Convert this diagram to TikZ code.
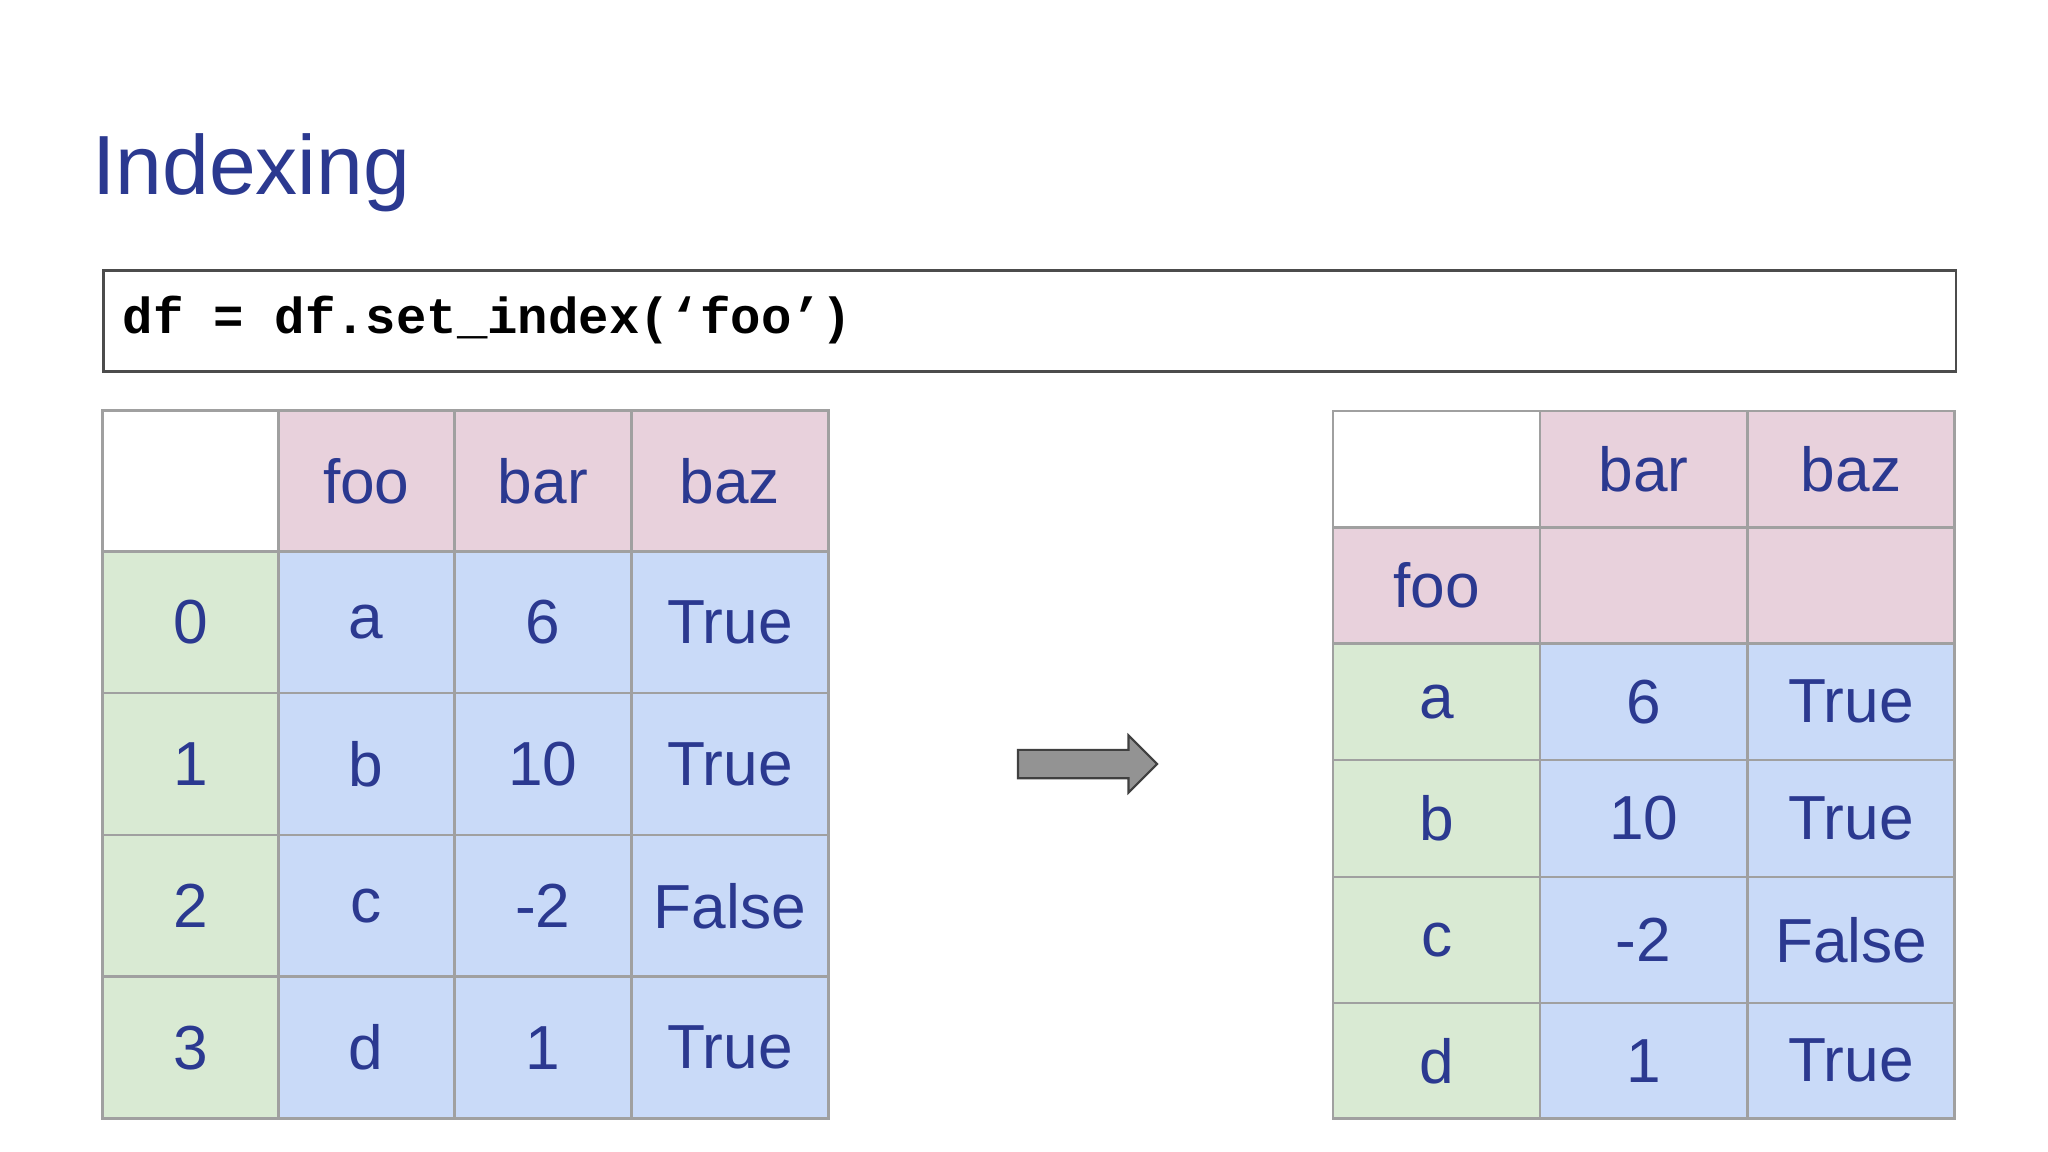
\documentclass[tikz,border=0pt]{standalone}
\usepackage{fontspec}
\setmainfont{Liberation Sans}
\newfontfamily\codefont{Liberation Mono}
\usetikzlibrary{shapes.arrows}
\definecolor{txtblue}{HTML}{2B3990}
\definecolor{hdpink}{HTML}{E8D1DC}
\definecolor{cellblue}{HTML}{C9DAF8}
\definecolor{idxgreen}{HTML}{D9EAD3}
\definecolor{gridgray}{HTML}{A0A0A0}
\tikzset{
  cell/.style={draw=gridgray, line width=1pt, inner sep=0pt, text=txtblue, font=\fontsize{23.7}{24}\selectfont},
  lcell/.style={cell, minimum height=54pt},
  rcell/.style={cell, minimum width=79pt},
}
\begin{document}
\begin{tikzpicture}[x=0.5pt,y=-0.5pt]
\useasboundingbox (0,0) rectangle (1560,877);
\node[anchor=base west, text=txtblue, font=\fontsize{32}{32}\selectfont, inner sep=0pt] (title) at (70,148) {Indexing};
\node[draw=black!70, line width=1pt, minimum width=705.5pt, minimum height=38.5pt, anchor=north west] (code) at (78,205) {};
\node[anchor=west, font=\codefont\bfseries\fontsize{19.3}{19.3}\selectfont, inner sep=0pt] (codetext) at (93,243.5) {df = df.set\_index(‘foo’)};
% left table
\node[lcell, fill=white, minimum width=67pt] (l00) at (145,366.5) {};
\node[lcell, fill=hdpink, minimum width=67pt] (l01) at (279,366.5) {foo};
\node[lcell, fill=hdpink, minimum width=67.5pt] (l02) at (413.5,366.5) {bar};
\node[lcell, fill=hdpink, minimum width=75pt] (l03) at (556,366.5) {baz};
\node[lcell, fill=idxgreen, minimum width=67pt] (l10) at (145,474) {0};
\node[lcell, fill=cellblue, minimum width=67pt] (l11) at (279,474) {a};
\node[lcell, fill=cellblue, minimum width=67.5pt] (l12) at (413.5,474) {6};
\node[lcell, fill=cellblue, minimum width=75pt] (l13) at (556,474) {True};
\node[lcell, fill=idxgreen, minimum width=67pt] (l20) at (145,582) {1};
\node[lcell, fill=cellblue, minimum width=67pt] (l21) at (279,582) {b};
\node[lcell, fill=cellblue, minimum width=67.5pt] (l22) at (413.5,582) {10};
\node[lcell, fill=cellblue, minimum width=75pt] (l23) at (556,582) {True};
\node[lcell, fill=idxgreen, minimum width=67pt] (l30) at (145,690) {2};
\node[lcell, fill=cellblue, minimum width=67pt] (l31) at (279,690) {c};
\node[lcell, fill=cellblue, minimum width=67.5pt] (l32) at (413.5,690) {-2};
\node[lcell, fill=cellblue, minimum width=75pt] (l33) at (556,690) {False};
\node[lcell, fill=idxgreen, minimum width=67pt] (l40) at (145,798) {3};
\node[lcell, fill=cellblue, minimum width=67pt] (l41) at (279,798) {d};
\node[lcell, fill=cellblue, minimum width=67.5pt] (l42) at (413.5,798) {1};
\node[lcell, fill=cellblue, minimum width=75pt] (l43) at (556,798) {True};
% arrow
\node[single arrow, draw=black!75, fill=gray!85, line width=0.8pt, inner sep=5pt, single arrow head extend=5.5pt, minimum height=53pt] (shift) at (823,582) {};
% right table
\node[rcell, fill=white, minimum height=44.5pt] (r00) at (1094.5,357.5) {};
\node[rcell, fill=hdpink, minimum height=44.5pt] (r01) at (1252,357.5) {bar};
\node[rcell, fill=hdpink, minimum height=44.5pt] (r02) at (1410,357.5) {baz};
\node[rcell, fill=hdpink, minimum height=44pt] (r10) at (1094.5,446) {foo};
\node[rcell, fill=hdpink, minimum height=44pt] (r11) at (1252,446) {};
\node[rcell, fill=hdpink, minimum height=44pt] (r12) at (1410,446) {};
\node[rcell, fill=idxgreen, minimum height=44.5pt] (r20) at (1094.5,534.5) {a};
\node[rcell, fill=cellblue, minimum height=44.5pt] (r21) at (1252,534.5) {6};
\node[rcell, fill=cellblue, minimum height=44.5pt] (r22) at (1410,534.5) {True};
\node[rcell, fill=idxgreen, minimum height=44.5pt] (r30) at (1094.5,623.5) {b};
\node[rcell, fill=cellblue, minimum height=44.5pt] (r31) at (1252,623.5) {10};
\node[rcell, fill=cellblue, minimum height=44.5pt] (r32) at (1410,623.5) {True};
\node[rcell, fill=idxgreen, minimum height=48pt] (r40) at (1094.5,716) {c};
\node[rcell, fill=cellblue, minimum height=48pt] (r41) at (1252,716) {-2};
\node[rcell, fill=cellblue, minimum height=48pt] (r42) at (1410,716) {False};
\node[rcell, fill=idxgreen, minimum height=44pt] (r50) at (1094.5,808) {d};
\node[rcell, fill=cellblue, minimum height=44pt] (r51) at (1252,808) {1};
\node[rcell, fill=cellblue, minimum height=44pt] (r52) at (1410,808) {True};
\end{tikzpicture}
\end{document}
